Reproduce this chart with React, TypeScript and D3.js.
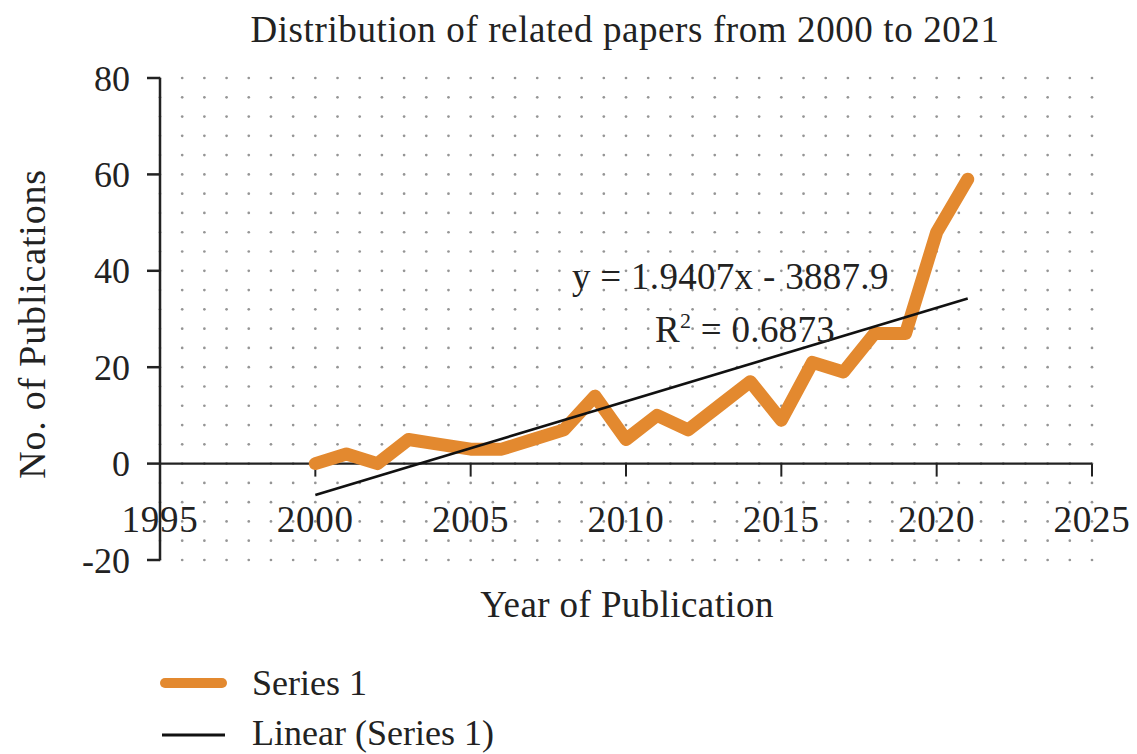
import React from "react";
import * as d3 from "d3";

// Publications per year, 2000–2021
const years = [2000, 2001, 2002, 2003, 2004, 2005, 2006, 2007, 2008, 2009, 2010,
  2011, 2012, 2013, 2014, 2015, 2016, 2017, 2018, 2019, 2020, 2021];
const counts = [0, 2, 0, 5, 4, 3, 3, 5, 7, 14, 5, 10, 7, 12, 17, 9, 21, 19, 27, 27, 48, 59];

// Linear trend reported for the series
const trendSlope = 1.9407;
const trendIntercept = -3887.9;
const trendR2 = 0.6873;

const xTicks = [1995, 2000, 2005, 2010, 2015, 2020, 2025];
const yTicks = [-20, 0, 20, 40, 60, 80];

const W = 1137;
const H = 754;
const FONT = "'Liberation Serif', 'Times New Roman', serif";
const ORANGE = "#E3892F";
const INK = "#222";

export default function App() {
  const x = d3.scaleLinear().domain([1995, 2025]).range([160, 1092]);
  const y = d3.scaleLinear().domain([-20, 80]).range([560, 78]);

  // dotted minor grid: 7 divisions per 5-year step, 5 per 20-unit step
  const gx = d3.range(0, 43).map((k) => 1995 + (k * 5) / 7);
  const gy = d3.range(0, 26).map((k) => -20 + k * 4);

  const line = d3
    .line<number>()
    .x((_, i) => x(years[i]))
    .y((d) => y(d));

  const t0 = years[0];
  const t1 = years[years.length - 1];
  const trend = (t: number) => trendSlope * t + trendIntercept;

  return (
    <svg
      width={W}
      height={H}
      style={{ position: "fixed", left: 0, top: 0, background: "#fff" }}
      fontFamily={FONT}
    >
      <rect width={W} height={H} fill="#fff" />
      <text x={625} y={42} fontSize={37} letterSpacing={0.6} textAnchor="middle" fill={INK}>
        Distribution of related papers from 2000 to 2021
      </text>

      {/* dot grid */}
      <g fill="#959595">
        {gx.map((gxv, i) =>
          gy.map((gyv, j) => (
            <circle key={`${i}-${j}`} cx={x(gxv)} cy={y(gyv)} r={1.35} />
          ))
        )}
      </g>

      {/* y axis */}
      <line x1={x(1995)} x2={x(1995)} y1={y(80)} y2={y(-20)} stroke={INK} strokeWidth={2.5} />
      {yTicks.map((t) => (
        <g key={t}>
          <line x1={x(1995) - 13} x2={x(1995)} y1={y(t)} y2={y(t)} stroke={INK} strokeWidth={2.5} />
          <text x={130} y={y(t)} dy="0.35em" fontSize={36} textAnchor="end" fill={INK}>
            {t}
          </text>
        </g>
      ))}

      {/* x axis at zero */}
      <line x1={x(1995)} x2={x(2025)} y1={y(0)} y2={y(0)} stroke={INK} strokeWidth={2.2} />
      {xTicks.map((t) => (
        <g key={t}>
          <line x1={x(t)} x2={x(t)} y1={y(0)} y2={y(0) + 13} stroke={INK} strokeWidth={2} />
          <text x={x(t)} y={532} fontSize={37} letterSpacing={0.8} textAnchor="middle" fill={INK}>
            {t}
          </text>
        </g>
      ))}

      {/* series */}
      <path
        d={line(counts) || ""}
        fill="none"
        stroke={ORANGE}
        strokeWidth={13}
        strokeLinejoin="round"
        strokeLinecap="round"
      />

      {/* linear trend */}
      <line
        x1={x(t0)}
        y1={y(trend(t0))}
        x2={x(t1)}
        y2={y(trend(t1))}
        stroke="#111"
        strokeWidth={2.6}
      />
      <text x={572} y={289} fontSize={37} letterSpacing={0.3} fill={INK}>
        {`y = ${trendSlope}x - ${-trendIntercept}`}
      </text>
      <text x={655} y={342} fontSize={37} letterSpacing={0.3} fill={INK}>
        R<tspan dy={-14} fontSize={22}>2</tspan>
        <tspan dy={14}>{` = ${trendR2}`}</tspan>
      </text>

      {/* axis titles */}
      <text x={627} y={617} fontSize={37} letterSpacing={0.4} textAnchor="middle" fill={INK}>
        Year of Publication
      </text>
      <text
        transform="translate(45,324) rotate(-90)"
        fontSize={38}
        letterSpacing={0.8}
        textAnchor="middle"
        fill={INK}
      >
        No. of Publications
      </text>

      {/* legend */}
      <line x1={165} x2={222} y1={683} y2={683} stroke={ORANGE} strokeWidth={10} strokeLinecap="round" />
      <text x={252} y={695} fontSize={36} fill={INK}>
        Series 1
      </text>
      <line x1={162} x2={225} y1={735} y2={735} stroke="#111" strokeWidth={3} />
      <text x={252} y={745} fontSize={36} fill={INK}>
        Linear (Series 1)
      </text>
    </svg>
  );
}
